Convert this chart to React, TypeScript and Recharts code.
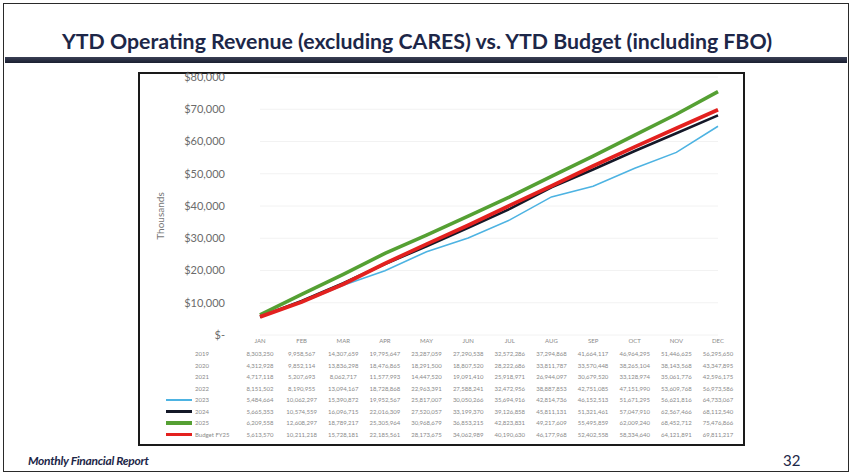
import { CartesianGrid, Line, LineChart, XAxis, YAxis } from "recharts";

const months = ["JAN", "FEB", "MAR", "APR", "MAY", "JUN", "JUL", "AUG", "SEP", "OCT", "NOV", "DEC"];
const yTicks = [0, 10000000, 20000000, 30000000, 40000000, 50000000, 60000000, 70000000, 80000000];

// table-only rows (not plotted)
const y2019 = [8303250, 9958567, 14307659, 19795647, 23287059, 27290538, 32572286, 37294868, 41664117, 46964295, 51446625, 56295650];
const y2020 = [4312928, 9852114, 13836298, 18476865, 18291500, 18807520, 28222686, 33811787, 33570448, 38265104, 38143568, 43347895];
const y2021 = [4717118, 5207693, 8062717, 11577993, 14447520, 19091410, 25918971, 26944097, 30679520, 33128974, 35061776, 42596175];
const y2022 = [8151502, 8190955, 13094167, 18728868, 22963391, 27588241, 32472956, 38887853, 42751085, 47151990, 53609768, 56973586];

// plotted rows
const y2023 = [5484664, 10062297, 15390872, 19952567, 25817007, 30050266, 35694916, 42814736, 46152513, 51671295, 56621816, 64733067];
const y2024 = [5665353, 10574559, 16096715, 22016309, 27520057, 33199370, 39126858, 45811131, 51321461, 57047910, 62567466, 68112540];
const y2025 = [6209558, 12608297, 18789217, 25305964, 30968679, 36853215, 42823831, 49217609, 55495859, 62009240, 68452712, 75476866];
const budgetFY25 = [5613570, 10211218, 15728181, 22185561, 28173675, 34062989, 40190630, 46177968, 52402558, 58334640, 64121891, 69811217];

const W = 852;
const H = 475;
const PLOT_LEFT = 260;
const PLOT_RIGHT = 718;
const PLOT_TOP = 77;
const PLOT_BOTTOM = 335;
const NAVY = "#1d2748";

const rows = [
  { key: "y2019", label: "2019", values: y2019 },
  { key: "y2020", label: "2020", values: y2020 },
  { key: "y2021", label: "2021", values: y2021 },
  { key: "y2022", label: "2022", values: y2022 },
  { key: "y2023", label: "2023", values: y2023, color: "#4db3e2", width: 1.6 },
  { key: "y2024", label: "2024", values: y2024, color: "#141828", width: 2.6 },
  { key: "y2025", label: "2025", values: y2025, color: "#55a033", width: 3.6 },
  { key: "budget", label: "Budget FY25", values: budgetFY25, color: "#e3211f", width: 3.8 },
];

const data = months.map((m, i) => {
  const d: Record<string, string | number> = { month: m };
  rows.forEach((r) => (d[r.key] = r.values[i]));
  return d;
});

const fmtAxis = (v: number) => (v === 0 ? "$-" : "$" + (v / 1000).toLocaleString("en-US"));
const colX = (i: number) => PLOT_LEFT + (i * (PLOT_RIGHT - PLOT_LEFT)) / (months.length - 1);

export default function App() {
  return (
    <div
      style={{
        position: "absolute",
        left: 0,
        top: 0,
        width: W,
        height: H,
        background: "#fff",
        overflow: "hidden",
        fontFamily: "Lato, 'Open Sans', sans-serif",
      }}
    >
      <div style={{ position: "absolute", left: 3, top: 3, width: W - 8, height: H - 8, border: "1.5px solid #2a2a2a" }} />
      <div
        style={{
          position: "absolute",
          left: 62,
          top: 28,
          fontSize: 21.3,
          fontWeight: 700,
          color: NAVY,
          whiteSpace: "nowrap",
        }}
      >
        YTD Operating Revenue (excluding CARES) vs. YTD Budget (including FBO)
      </div>
      <div
        style={{
          position: "absolute",
          left: 5,
          top: 57,
          width: W - 10,
          height: 6,
          background: "linear-gradient(#3a4055, #1a1f30)",
        }}
      />
      <div
        style={{
          position: "absolute",
          left: 138,
          top: 72,
          width: 603,
          height: 370,
          border: "2px solid #1a1a1a",
        }}
      />
      <div style={{ position: "absolute", left: 0, top: 0 }}>
        <LineChart
          width={W}
          height={H}
          data={data}
          margin={{ top: PLOT_TOP, right: W - PLOT_RIGHT, bottom: H - PLOT_BOTTOM - 30, left: PLOT_LEFT - 90 }}
        >
          <CartesianGrid vertical={false} stroke="#f2f2f2" />
          <XAxis
            dataKey="month"
            axisLine={false}
            tickLine={false}
            tickSize={0}
            tickMargin={4}
            height={30}
            interval={0}
            tick={{ fontSize: 6, fill: "#8a8a8a" }}
          />
          <YAxis
            width={90}
            domain={[0, 80000000]}
            ticks={yTicks}
            axisLine={false}
            tickLine={false}
            tickSize={0}
            tickMargin={35}
            tickFormatter={fmtAxis}
            tick={{ fontSize: 11, fill: "#6b6b6b" }}
          />
          {rows
            .filter((r) => r.color)
            .map((r) => (
              <Line
                key={r.key}
                dataKey={r.key}
                stroke={r.color}
                strokeWidth={r.width}
                dot={false}
                type="linear"
                isAnimationActive={false}
              />
            ))}
        </LineChart>
      </div>
      <div
        style={{
          position: "absolute",
          left: 160,
          top: 216,
          transform: "translate(-50%, -50%) rotate(-90deg)",
          fontSize: 10,
          color: "#777",
          whiteSpace: "nowrap",
        }}
      >
        Thousands
      </div>
      {rows.map((r, k) => {
        const cy = 354 + k * 11.5;
        return (
          <div key={r.key}>
            {r.color && (
              <div
                style={{
                  position: "absolute",
                  left: 166,
                  top: cy - r.width / 2,
                  width: 26,
                  height: r.width,
                  background: r.color,
                }}
              />
            )}
            <div
              style={{
                position: "absolute",
                left: 195,
                top: cy - 4,
                fontSize: 6,
                lineHeight: "8px",
                color: "#8a8a8a",
                whiteSpace: "nowrap",
              }}
            >
              {r.label}
            </div>
            {r.values.map((v, i) => (
              <div
                key={i}
                style={{
                  position: "absolute",
                  left: colX(i) - 20,
                  width: 40,
                  top: cy - 4,
                  fontSize: 6,
                  lineHeight: "8px",
                  color: "#8a8a8a",
                  textAlign: "center",
                  whiteSpace: "nowrap",
                }}
              >
                {v.toLocaleString("en-US")}
              </div>
            ))}
          </div>
        );
      })}
      <div
        style={{
          position: "absolute",
          left: 28,
          top: 453,
          fontSize: 12,
          fontStyle: "italic",
          fontWeight: 700,
          color: NAVY,
          letterSpacing: -0.3,
        }}
      >
        Monthly Financial Report
      </div>
      <div style={{ position: "absolute", left: 783, top: 451, fontSize: 15, color: NAVY }}>32</div>
    </div>
  );
}
